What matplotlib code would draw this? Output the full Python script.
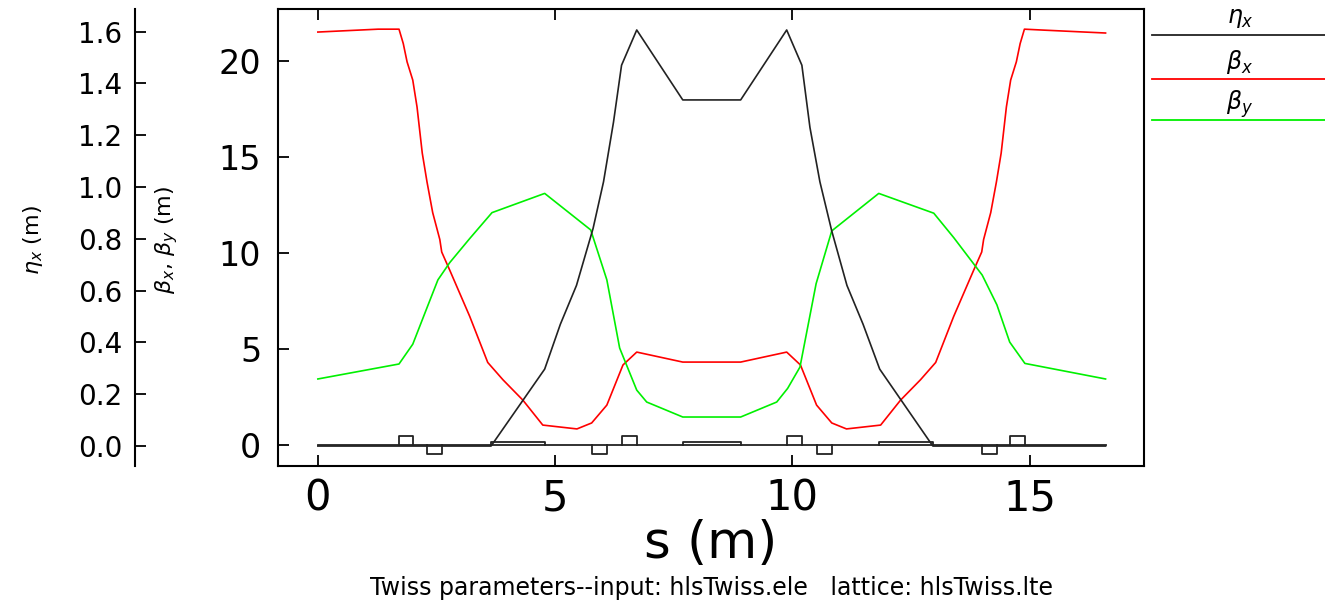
import matplotlib
matplotlib.use("Agg")
import matplotlib.pyplot as plt
from matplotlib.lines import Line2D
from matplotlib.ticker import FormatStrFormatter

# beta_x (m) along s (m)
s_betax = [0.00, 0.42, 1.27, 1.71, 1.80, 1.88, 2.00, 2.09, 2.20, 2.30, 2.42, 2.57, 2.61,
           2.78, 3.20, 3.58, 3.90, 4.32, 4.74, 5.46, 5.77, 6.09, 6.43, 6.72, 7.69,
           8.91, 9.88, 10.17, 10.51, 10.83, 11.14, 11.86, 12.28, 12.70, 13.02, 13.40,
           13.82, 13.99, 14.03, 14.18, 14.30, 14.40, 14.51, 14.60, 14.72, 14.80, 14.89,
           15.30, 16.16, 16.60]
betax = [21.50, 21.55, 21.65, 21.65, 20.90, 19.95, 19.00, 17.60, 15.20, 13.70, 12.10, 10.70, 10.05,
         9.10, 6.70, 4.30, 3.40, 2.34, 1.04, 0.84, 1.15, 2.08, 4.17, 4.84, 4.32,
         4.32, 4.84, 4.17, 2.08, 1.15, 0.84, 1.04, 2.34, 3.40, 4.30, 6.70,
         9.10, 10.05, 10.70, 12.10, 13.70, 15.20, 17.60, 19.00, 19.95, 20.90, 21.65,
         21.60, 21.50, 21.45]

# beta_y (m)
s_betay = [0.00, 1.71, 2.00, 2.30, 2.53, 2.78, 3.20, 3.67, 4.78, 5.75, 6.09, 6.36, 6.72, 6.93, 7.69,
           8.91, 9.67, 9.90, 10.16, 10.50, 10.83, 11.82, 12.98, 13.40, 14.00, 14.31, 14.58, 14.90, 16.60]
betay = [3.44, 4.22, 5.25, 7.15, 8.60, 9.50, 10.75, 12.10, 13.10, 11.20, 8.60, 5.05, 2.86, 2.24, 1.46,
         1.46, 2.24, 2.95, 4.06, 8.40, 11.15, 13.10, 12.07, 10.80, 8.85, 7.30, 5.36, 4.25, 3.44]

# eta_x (m)
s_eta = [0.00, 3.65, 4.78, 5.11, 5.45, 5.80, 6.02, 6.23, 6.40, 6.72, 7.69,
         8.91, 9.88, 10.20, 10.37, 10.58, 10.83, 11.15, 11.49, 11.84, 12.96, 16.60]
eta = [0.0, 0.0, 0.297, 0.47, 0.62, 0.84, 1.02, 1.25, 1.47, 1.606, 1.336,
       1.336, 1.606, 1.47, 1.23, 1.02, 0.83, 0.62, 0.47, 0.297, 0.0, 0.0]

# lattice profile: quadrupoles (start, end, sign) and dipoles (start, end)
quads = [(1.71, 2.00, 1), (2.30, 2.61, -1), (5.77, 6.09, -1), (6.40, 6.72, 1),
         (9.88, 10.20, 1), (10.52, 10.83, -1), (14.00, 14.31, -1), (14.58, 14.90, 1)]
dipoles = [(3.65, 4.78), (7.69, 8.91), (11.82, 12.96)]
cell_length = 16.6

beta_ticks = [0, 5, 10, 15, 20]
eta_ticks = [0.0, 0.2, 0.4, 0.6, 0.8, 1.0, 1.2, 1.4, 1.6]
s_ticks = [0, 5, 10, 15]

W, H = 1325, 604
fig = plt.figure(figsize=(W / 100, H / 100), dpi=100)
ax = fig.add_axes([278 / W, 1 - 466 / H, 866 / W, 457 / H])

dark = "#222222"
ax.plot(s_betax, betax, color="#ff0000", lw=1.2)
ax.plot(s_betay, betay, color="#00f000", lw=1.2)

# magnet profile drawn at beta = 0
ax.plot([0, cell_length], [0, 0], color=dark, lw=1.3)
for a, b, sign in quads:
    h = 0.47 * sign
    ax.plot([a, a, b, b], [0, h, h, 0], color=dark, lw=1.3)
for a, b in dipoles:
    ax.plot([a, a, b, b], [0, 0.17, 0.17, 0], color=dark, lw=1.3)

ax.set_xlim(-0.84, 17.41)
ax.set_ylim(-1.09, 22.7)
ax.set_xticks(s_ticks)
ax.set_yticks(beta_ticks)
ax.tick_params(direction="in", top=True, right=True, length=8, width=1.3)
ax.tick_params(axis="x", labelsize=30, pad=8)
ax.tick_params(axis="y", labelsize=24, pad=12)
for sp in ax.spines.values():
    sp.set_linewidth(1.5)
ax.set_xlabel("s (m)", fontsize=37, labelpad=0)

# eta axis on a separate spine further left
ax2 = ax.twinx()
ax2.plot(s_eta, eta, color=dark, lw=1.2)
ax2.set_ylim(-0.077, 1.687)
ax2.yaxis.tick_left()
ax2.set_yticks(eta_ticks)
ax2.yaxis.set_major_formatter(FormatStrFormatter("%.1f"))
ax2.spines["left"].set_position(("axes", -0.165))
for side in ["top", "right", "bottom"]:
    ax2.spines[side].set_visible(False)
ax2.spines["left"].set_linewidth(1.5)
ax2.tick_params(direction="in", length=8, width=1.3, labelsize=20, pad=9)

fig.text(33 / W, 1 - 240 / H, r"$\eta_x$ (m)", rotation=90, ha="center", va="center", fontsize=16)
fig.text(167 / W, 1 - 240 / H, r"$\beta_x$, $\beta_y$ (m)", rotation=90, ha="center", va="center", fontsize=16)

# legend outside on the right
legend_items = [(r"$\eta_x$", dark, 18, 35), (r"$\beta_x$", "#ff0000", 62, 79), (r"$\beta_y$", "#00f000", 104, 120)]
for label, col, ty, ly in legend_items:
    fig.add_artist(Line2D([1152 / W, 1.0], [1 - ly / H] * 2, color=col, lw=1.3, transform=fig.transFigure))
    fig.text(1240 / W, 1 - ty / H, label, ha="center", va="center", fontsize=17)

fig.text(712 / W, 1 - 588 / H, "Twiss parameters--input: hlsTwiss.ele   lattice: hlsTwiss.lte",
         ha="center", va="center", fontsize=17)

fig.savefig("out.png", dpi=100)
